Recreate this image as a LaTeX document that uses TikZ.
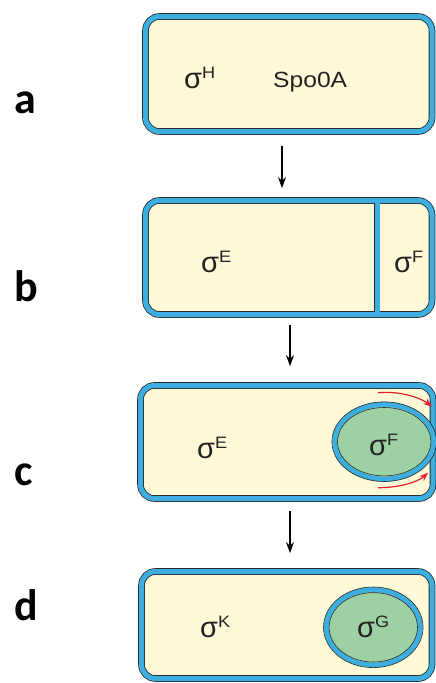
\documentclass[tikz,border=0pt]{standalone}
\usepackage{fontspec}
\setmainfont{Liberation Sans}
\newfontfamily\panelfont{Carlito}
\usetikzlibrary{shapes.geometric,arrows.meta,calc}

\definecolor{cyto}{HTML}{FFF9D8}
\definecolor{membrane}{HTML}{3DAEE0}
\definecolor{edge}{HTML}{2B2B2B}
\definecolor{sporefill}{HTML}{9DD1A4}
\definecolor{motion}{HTML}{E5202A}
\definecolor{ink}{HTML}{222222}

% sigma factor with its superscript letter
\newcommand\sigfac[1]{{\fontsize{29}{29}\selectfont σ}\raisebox{10pt}{\scalebox{1.1}[1]{\fontsize{16.5}{16.5}\selectfont #1}}}

\begin{document}
\begin{tikzpicture}[x=1pt,y=-1pt,
  cell/.style={rectangle,rounded corners=14pt,fill=cyto,draw=edge,line width=0.8pt,
    double=membrane,double distance=5pt,inner sep=0pt},
  spore/.style={ellipse,fill=sporefill,draw=membrane,line width=5pt,inner sep=0pt},
  rim/.style={draw=edge,line width=0.6pt},
  txt/.style={anchor=base west,inner sep=0pt,text=ink},
  panel/.style={anchor=base west,inner sep=0pt,font=\panelfont\bfseries\fontsize{44}{44}\selectfont},
  stage/.style={draw=black,line width=1.3pt,-{Stealth[length=11pt,width=8pt]}},
  push/.style={draw=motion,line width=1.2pt,-{Stealth[length=9pt,width=6.5pt]}}]
\useasboundingbox (0,0) rectangle (436,683);

% the four cells
\node[cell,minimum width=286.5pt,minimum height=115pt] (a) at (288.75,74) {};
\node[cell,minimum width=286.5pt,minimum height=114pt] (b) at (288.75,257.5) {};
\node[cell,minimum width=292.5pt,minimum height=113pt] (c) at (286.75,442) {};
\node[cell,minimum width=290.5pt,minimum height=107pt] (d) at (286.75,625) {};

% asymmetric septum in b
\coordinate (dv) at (377,0);
\draw[edge,line width=6.6pt,shorten <=3.2pt,shorten >=3.2pt] (b.north -| dv) -- (b.south -| dv);
\draw[membrane,line width=5pt] (b.north -| dv) -- (b.south -| dv);

% engulfed forespore in c
\node[spore,minimum width=99pt,minimum height=75pt] (sc) at (384.2,441.7) {};
\draw[rim] (sc.center) ellipse [x radius=52.3,y radius=39.8];
\draw[rim] (sc.center) ellipse [x radius=46.7,y radius=34.2];
\draw[push] ($(sc)+(-6,-49)$) .. controls ($(sc)+(16,-51)$) and ($(sc)+(36,-44)$) .. ($(sc)+(48,-35)$);
\draw[push] ($(sc)+(-6,46)$) .. controls ($(sc)+(16,46)$) and ($(sc)+(34,40)$) .. ($(sc)+(44,31)$);

% mature spore in d
\node[spore,minimum width=94pt,minimum height=75.5pt] (sd) at (373.3,627.3) {};
\draw[rim] (sd.center) ellipse [x radius=49.8,y radius=40.3];
\draw[rim] (sd.center) ellipse [x radius=44.2,y radius=34.7];

% labels inside the cells
\node[txt] (aH) at (184,88) {\sigfac{H}};
\node[txt] (aS) at (273,87) {\scalebox{1.12}[1]{\fontsize{22}{22}\selectfont Spo0A}};
\node[txt] (bE) at (201,272) {\sigfac{E}};
\node[txt] (bF) at (394,272) {\sigfac{F}};
\node[txt] (cE) at (197,458) {\sigfac{E}};
\node[txt] (cF) at (369,455) {\sigfac{F}};
\node[txt] (dK) at (200,637) {\sigfac{K}};
\node[txt] (dG) at (357,637) {\sigfac{G}};

% panel letters
\node[panel] (la) at (14,113) {a};
\node[panel] (lb) at (14,301) {b};
\node[panel] (lc) at (14,485) {c};
\node[panel] (ld) at (14,620) {d};

% progression arrows
\coordinate (x1) at (282,0);
\coordinate (x2) at (290,0);
\draw[stage,shorten <=14pt,shorten >=12pt] (a.south -| x1) -- (b.north -| x1);
\draw[stage,shorten <=10pt,shorten >=19pt] (b.south -| x2) -- (c.north -| x2);
\draw[stage,shorten <=12pt,shorten >=18pt] (c.south -| x2) -- (d.north -| x2);
\end{tikzpicture}
\end{document}
